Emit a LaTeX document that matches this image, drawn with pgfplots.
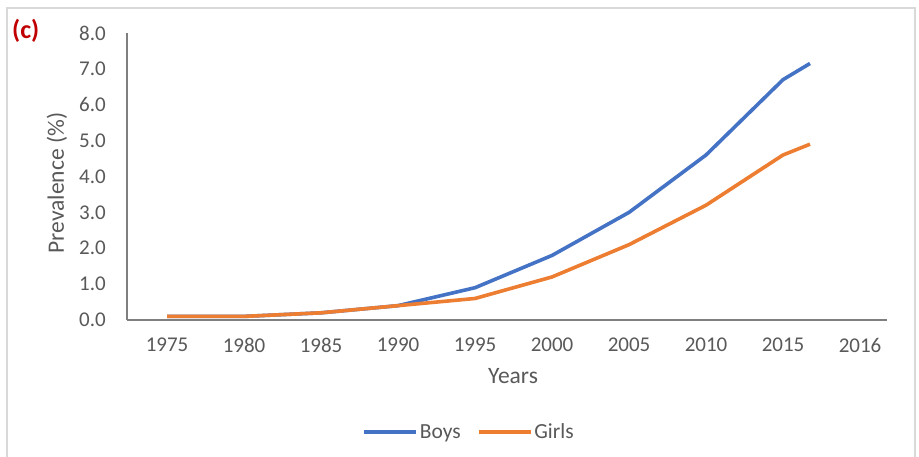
\documentclass[border=0pt]{standalone}
\usepackage{pgfplots}
\pgfplotsset{compat=1.18}
\usepackage{fontspec}
\setmainfont{Carlito}
\definecolor{boys}{HTML}{4472C4}
\definecolor{girls}{HTML}{ED7D31}
\definecolor{txt}{HTML}{595959}
\definecolor{axl}{HTML}{7F7F7F}
\definecolor{frame}{HTML}{D9D9D9}
\definecolor{tag}{HTML}{C00000}
\begin{document}
\begin{tikzpicture}
  % page extent and chart frame
  \useasboundingbox[fill=white] (0pt,0pt) rectangle (919pt,457pt);
  \draw[frame,line width=1.2pt] (7pt,-2pt) -- (7pt,449pt) -- (915pt,449pt) -- (915pt,-2pt);
  \node[tag,font=\fontsize{26}{26}\selectfont\bfseries,anchor=west,inner sep=0pt] at (12pt,426pt) {(c)};
  \begin{axis}[
    at={(127pt,137pt)}, anchor=south west,
    scale only axis, width=760pt, height=287pt,
    xmin=-0.52, xmax=9.35, ymin=0, ymax=8,
    axis lines=left, axis line style={-, axl, line width=1.3pt},
    xtick={0,...,9},
    xticklabels={1975,1980,1985,1990,1995,2000,2005,2010,2015,2016},
    ytick={0,1,...,8},
    yticklabel={\pgfmathprintnumber[fixed,fixed zerofill,precision=1]{\tick}},
    major tick length=0pt,
    tick label style={font=\fontsize{21}{21}\selectfont, text=txt, inner sep=0pt},
    /pgf/number format/assume math mode=true,
    xticklabel style={anchor=center, yshift=-25pt},
    yticklabel style={anchor=east, xshift=-21pt},
    xlabel={Years}, ylabel={Prevalence (\%)},
    label style={font=\fontsize{23.5}{23.5}\selectfont, text=txt},
    xlabel style={at={(axis description cs:0.508,0)}, anchor=center, yshift=-56pt},
    ylabel style={at={(axis description cs:0,0.477)}, anchor=center, rotate=0, yshift=70pt},
    legend style={at={(0.45,-0.39)}, anchor=center, draw=none,
      legend columns=2, font=\fontsize{21.5}{21.5}\selectfont, text=txt,
      /tikz/every even column/.append style={column sep=14pt}},
    legend image code/.code={\draw[#1, line width=3.6pt] (0pt,0pt) -- (52pt,0pt);},
    clip=false,
  ]
    \addplot[boys, line width=3.6pt, line join=round] coordinates {
      (0,0.1) (1,0.1) (2,0.2) (3,0.4) (4,0.9) (5,1.8)
      (6,3.0) (7,4.6) (8,6.7) (8.35,7.15)};
    \addlegendentry{Boys}
    \addplot[girls, line width=3.6pt, line join=round] coordinates {
      (0,0.1) (1,0.1) (2,0.2) (3,0.4) (4,0.6) (5,1.2)
      (6,2.1) (7,3.2) (8,4.6) (8.35,4.9)};
    \addlegendentry{Girls}
  \end{axis}
\end{tikzpicture}
\end{document}
